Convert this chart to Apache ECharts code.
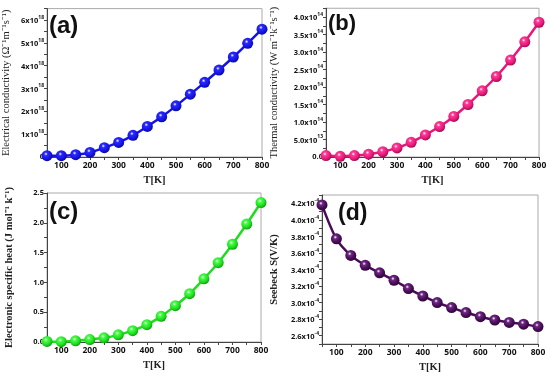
<!DOCTYPE html>
<html><head><meta charset="utf-8">
<script src="https://cdn.jsdelivr.net/npm/echarts@6/dist/echarts.min.js"></script>
<style>html,body{margin:0;padding:0;background:#fff}#c{width:550px;height:378px}</style>
</head><body><div id="c"></div>
<script>
// Temperature (K)
const temps = [50,100,150,200,250,300,350,400,450,500,550,600,650,700,750,800];
const xTickLabels = [100,200,300,400,500,600,700,800];
// (a) Electrical conductivity, units of 1e18
const sigma = [0.06,0.06,0.10,0.20,0.41,0.64,0.95,1.34,1.76,2.24,2.75,3.27,3.81,4.38,4.98,5.60];
const sigmaTicks = [0,1,2,3,4,5,6];
// (b) Thermal conductivity, units of 1e14
const kappa = [0.04,0.02,0.04,0.08,0.15,0.26,0.42,0.63,0.87,1.16,1.50,1.89,2.30,2.77,3.29,3.85];
const kappaTicks = [0,0.5,1.0,1.5,2.0,2.5,3.0,3.5,4.0];
// (c) Electronic specific heat
const cel = [0.01,0.005,0.02,0.04,0.07,0.12,0.19,0.29,0.43,0.61,0.81,1.06,1.33,1.64,1.98,2.34];
const celTicks = [0,0.5,1.0,1.5,2.0,2.5];
// (d) Seebeck, units of 1e-4
const seebeck = [4.18,3.77,3.57,3.45,3.36,3.27,3.17,3.08,3.00,2.94,2.88,2.83,2.79,2.76,2.74,2.71];
const seebeckTicks = [2.6,2.8,3.0,3.2,3.4,3.6,3.8,4.0,4.2];

const chart = echarts.init(document.getElementById('c'));
const has = (arr, v) => arr.some(t => Math.abs(t - v) < 1e-6);
const rich = {
  m:{fontSize:7.5,fontWeight:'bold',fontFamily:'Open Sans',color:'#111',verticalAlign:'bottom',lineHeight:10},
  s:{fontSize:5,fontWeight:'bold',fontFamily:'Open Sans',color:'#111',verticalAlign:'top',lineHeight:10}
};
const grids = [
  {left:47, top:8.6, width:215, height:148.4},
  {left:326, top:8.25, width:213, height:148.75},
  {left:47, top:193, width:214, height:149},
  {left:322, top:195, width:216, height:149}
];
const colors = [
  {line:'#1414e6', dark:'#0a0a9a', mid:'#2a2aff'},
  {line:'#e6197a', dark:'#a00e52', mid:'#ff3a94'},
  {line:'#1fdc1f', dark:'#10a010', mid:'#44ff44'},
  {line:'#4a0a58', dark:'#2e0638', mid:'#6a2a80'}
];
const yNames = [
  'Electrical conductivity (Ω⁻¹m⁻¹s⁻¹)',
  'Thermal conductivity (W m⁻¹k⁻¹s⁻¹)',
  'Electronic specific heat (J mol⁻¹ k⁻¹)',
  'Seebeck S(V/K)'
];
const yGaps = [35, 46, 32, 42];
const yBold = ['normal','normal','bold','bold'];
const yCfg = [
  {min:0, max:6.5, interval:0.5, ticks:sigmaTicks, fmt:v => v===0?'0':'{m|'+v+'x10}{s|18}'},
  {min:0, max:4.25, interval:0.25, ticks:kappaTicks, fmt:v => v===0?'0.0':(Math.abs(v-0.5)<1e-6?'{m|5.0x10}{s|13}':'{m|'+v.toFixed(1)+'x10}{s|14}')},
  {min:0, max:2.5, interval:0.25, ticks:celTicks, fmt:v => v.toFixed(1)},
  {min:2.5, max:4.3, interval:0.1, ticks:seebeckTicks, fmt:v => '{m|'+v.toFixed(1)+'x10}{s|-4}'}
];
const dataSets = [sigma, kappa, cel, seebeck];

const xAxis = [], yAxis = [], series = [];
for (let i=0;i<4;i++){
  xAxis.push({
    type:'value', gridIndex:i, min:50, max:800, interval:50,
    name:'T[K]', nameLocation:'middle', nameGap:18,
    nameTextStyle:{fontFamily:'Liberation Serif',fontWeight:'bold',fontSize:10.5,color:'#222'},
    axisLine:{show:true,onZero:false,lineStyle:{color:'#444',width:1}},
    axisTick:{show:true,length:3,lineStyle:{color:'#444'}},
    splitLine:{show:false},
    axisLabel:{margin:4,fontFamily:'Open Sans',fontWeight:'bold',fontSize:8.5,color:'#111',
      formatter:v => has(xTickLabels,v)?String(v):'', showMinLabel:true, showMaxLabel:true}
  });
  const c = yCfg[i];
  yAxis.push({
    type:'value', gridIndex:i, min:c.min, max:c.max, interval:c.interval,
    name:yNames[i], nameLocation:'middle', nameGap:yGaps[i],
    nameTextStyle:{fontFamily:'Liberation Serif',fontWeight:yBold[i],fontSize:10.5,color:'#222'},
    axisLine:{show:true,lineStyle:{color:'#444',width:1}},
    axisTick:{show:true,length:3,lineStyle:{color:'#444'}},
    splitLine:{show:false},
    axisLabel:{margin:3,fontFamily:'Open Sans',fontWeight:'bold',fontSize:7.5,color:'#111',rich:rich,
      formatter:v => has(c.ticks,v)?c.fmt(v):''}
  });
  const col = colors[i];
  series.push({
    type:'line', xAxisIndex:i, yAxisIndex:i, smooth:0.3,
    data: temps.map((t,k)=>[t,dataSets[i][k]]),
    symbol:'circle', symbolSize:11, clip:false,
    lineStyle:{color:col.line,width:2.5},
    itemStyle:{borderWidth:0,color:{type:'radial',x:0.4,y:0.35,r:0.65,colorStops:[
      {offset:0,color:'#ffffff'},{offset:0.25,color:col.mid},{offset:0.7,color:col.line},{offset:1,color:col.dark}]}}
  });
}
const panelLabels = [
  {t:'(a)', x:49, y:14, s:24},
  {t:'(b)', x:328, y:13, s:22},
  {t:'(c)', x:49, y:200, s:24},
  {t:'(d)', x:338, y:202, s:23}
];
chart.setOption({
  animation:false,
  grid: grids.map(g=>Object.assign({show:true,borderColor:'#aaa',borderWidth:1,backgroundColor:'transparent'},g)),
  xAxis, yAxis, series,
  graphic: panelLabels.map(p=>({type:'text',left:p.x,top:p.y,z:100,
    style:{text:p.t,font:'bold '+p.s+'px "Liberation Sans"',fill:'#111'}}))
});
</script></body></html>
